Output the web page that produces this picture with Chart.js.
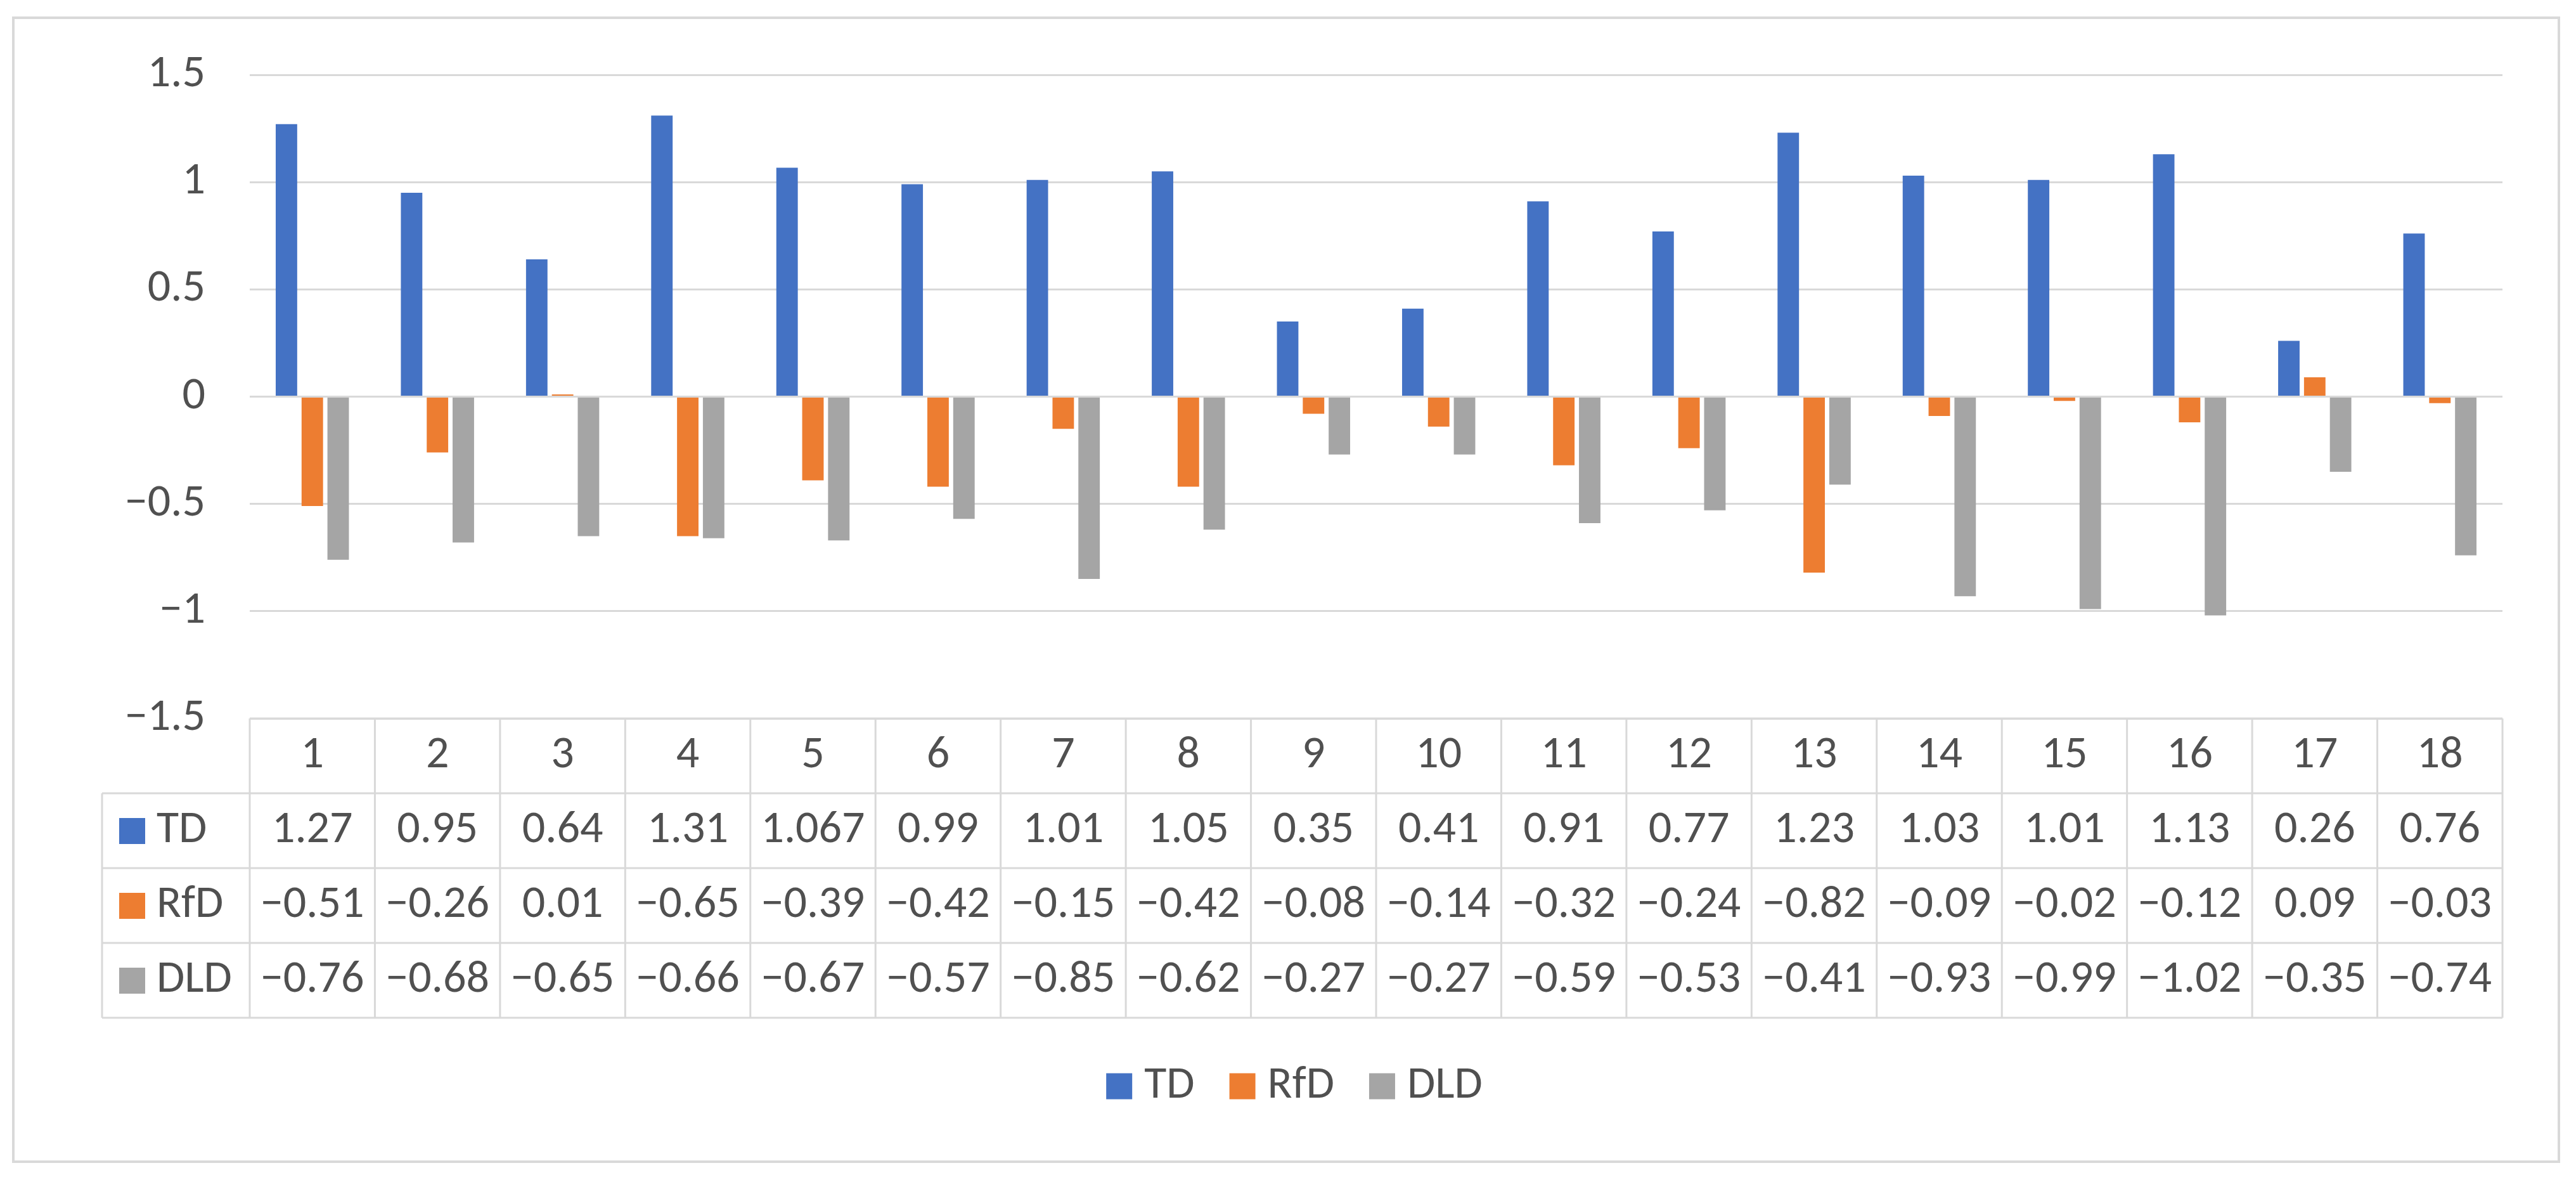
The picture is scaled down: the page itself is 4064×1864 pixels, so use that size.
<!DOCTYPE html>
<html>
<head>
<meta charset="utf-8">
<script src="https://cdn.jsdelivr.net/npm/chart.js@4.4.1/dist/chart.umd.min.js"></script>
<style>
    html, body { margin: 0; padding: 0; background: #ffffff; }
    #wrap { width: 4064px; height: 1864px; }
</style>
</head>
<body>
<div id="wrap"><canvas id="chart" width="4064" height="1864"></canvas></div>
<script>
// Chart data
const categories = ['1', '2', '3', '4', '5', '6', '7', '8', '9', '10', '11', '12', '13', '14', '15', '16', '17', '18'];
const tdValues = [1.27, 0.95, 0.64, 1.31, 1.067, 0.99, 1.01, 1.05, 0.35, 0.41, 0.91, 0.77, 1.23, 1.03, 1.01, 1.13, 0.26, 0.76];
const rfdValues = [-0.51, -0.26, 0.01, -0.65, -0.39, -0.42, -0.15, -0.42, -0.08, -0.14, -0.32, -0.24, -0.82, -0.09, -0.02, -0.12, 0.09, -0.03];
const dldValues = [-0.76, -0.68, -0.65, -0.66, -0.67, -0.57, -0.85, -0.62, -0.27, -0.27, -0.59, -0.53, -0.41, -0.93, -0.99, -1.02, -0.35, -0.74];
const seriesNames = ['TD', 'RfD', 'DLD'];
const seriesColors = ['#4472C4', '#ED7D31', '#A5A5A5'];
const yMin = -1.5;
const yMax = 1.5;
const yStep = 0.5;

const textColor = '#505050';
const lineColor = '#d9d9d9';
const fontFamily = 'Carlito, Lato, sans-serif';
const fontSize = 72;

// Excel style minus sign
function fmt(v) {
    return String(v).replace('-', '\u2212');
}

// Draws the outer frame, the data table under the axis and the legend
const dataTablePlugin = {
    id: 'dataTable',
    beforeDraw(chart) {
        const ctx = chart.ctx;
        ctx.save();
        ctx.strokeStyle = lineColor;
        ctx.lineWidth = 4;
        ctx.strokeRect(21, 28, 4016, 1804);
        ctx.restore();
    },
    afterDraw(chart) {
        const ctx = chart.ctx;
        const area = chart.chartArea;
        const xScale = chart.scales.x;
        const colW = (area.right - area.left) / categories.length;
        const top = area.bottom;
        const rowH = xScale.height / 4;
        const labelLeft = 161;
        const bottom = top + rowH * 4;

        ctx.save();
        ctx.strokeStyle = lineColor;
        ctx.lineWidth = 3;

        // horizontal lines
        ctx.beginPath();
        ctx.moveTo(area.left, top);
        ctx.lineTo(area.right, top);
        for (let r = 1; r <= 4; r++) {
            ctx.moveTo(labelLeft, top + rowH * r);
            ctx.lineTo(area.right, top + rowH * r);
        }
        // vertical lines
        ctx.moveTo(labelLeft, top + rowH);
        ctx.lineTo(labelLeft, bottom);
        for (let i = 0; i <= categories.length; i++) {
            const x = area.left + colW * i;
            ctx.moveTo(x, top);
            ctx.lineTo(x, bottom);
        }
        ctx.stroke();

        ctx.font = `${fontSize}px ${fontFamily}`;
        ctx.fillStyle = textColor;
        ctx.textBaseline = 'middle';
        ctx.textAlign = 'center';

        // header row (category labels)
        categories.forEach((cat, i) => {
            ctx.fillText(cat, xScale.getPixelForValue(i), top + rowH / 2);
        });

        // series rows
        chart.data.datasets.forEach((ds, r) => {
            const cy = top + rowH * (r + 1.5);
            ctx.fillStyle = ds.backgroundColor;
            ctx.fillRect(188, cy - 20, 41, 41);
            ctx.fillStyle = textColor;
            ctx.textAlign = 'left';
            ctx.fillText(ds.label, 247, cy);
            ctx.textAlign = 'center';
            ds.data.forEach((v, i) => {
                ctx.fillText(fmt(v), xScale.getPixelForValue(i), cy);
            });
        });

        // legend
        const legendY = 1713;
        const box = 41;
        const boxGap = 19;
        const itemGap = 55;
        const widths = chart.data.datasets.map(ds => box + boxGap + ctx.measureText(ds.label).width);
        const total = widths.reduce((s, w) => s + w, 0) + itemGap * (widths.length - 1);
        let x = 2042 - total / 2;
        ctx.textAlign = 'left';
        chart.data.datasets.forEach((ds, i) => {
            ctx.fillStyle = ds.backgroundColor;
            ctx.fillRect(x, legendY - box / 2, box, box);
            ctx.fillStyle = textColor;
            ctx.fillText(ds.label, x + box + boxGap, legendY);
            x += widths[i] + itemGap;
        });
        ctx.restore();
    }
};

const ctx = document.getElementById('chart').getContext('2d');
Chart.defaults.font.family = fontFamily;

window.barChart = new Chart(ctx, {
    type: 'bar',
    data: {
        labels: categories,
        datasets: [
            { label: seriesNames[0], data: tdValues, backgroundColor: seriesColors[0] },
            { label: seriesNames[1], data: rfdValues, backgroundColor: seriesColors[1] },
            { label: seriesNames[2], data: dldValues, backgroundColor: seriesColors[2] },
        ],
    },
    options: {
        responsive: false,
        animation: false,
        devicePixelRatio: 1,
        layout: {
            padding: { top: 118, right: 116, bottom: 259, left: 0 },
        },
        datasets: {
            bar: {
                categoryPercentage: 0.62,
                barPercentage: 0.83,
            },
        },
        plugins: {
            legend: { display: false },
            tooltip: { enabled: false },
        },
        scales: {
            x: {
                grid: { display: false },
                border: { display: false },
                ticks: { display: false },
                afterFit(scale) {
                    scale.height = 472; // space for the data table
                },
            },
            y: {
                min: yMin,
                max: yMax,
                grid: {
                    color: lineColor,
                    lineWidth: 3,
                    drawTicks: false,
                },
                border: { display: false },
                ticks: {
                    stepSize: yStep,
                    padding: 70,
                    color: textColor,
                    font: { size: fontSize },
                    callback: (value) => fmt(value),
                },
                afterFit(scale) {
                    scale.width = 394;
                },
            },
        },
    },
    plugins: [dataTablePlugin],
});
</script>
</body>
</html>
